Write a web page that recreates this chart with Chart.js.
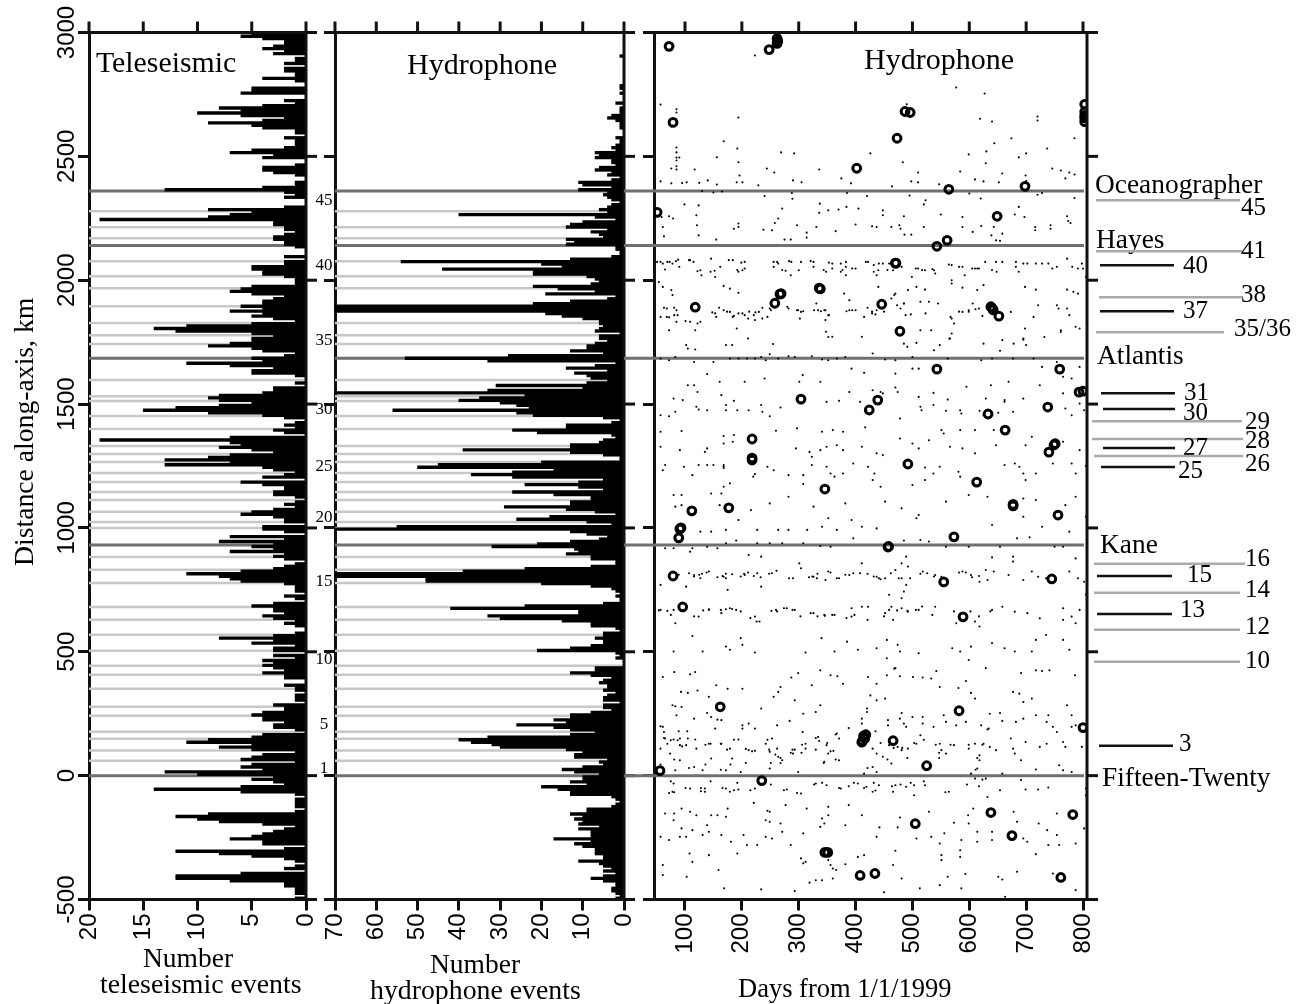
<!DOCTYPE html>
<html>
<head>
<meta charset="utf-8">
<title>Along-axis seismicity</title>
<script src="https://cdn.jsdelivr.net/npm/chart.js@4/dist/chart.umd.min.js"></script>
<style>
  html, body { margin: 0; background: #fff; }
  canvas { position: absolute; top: 0; }
</style>
</head>
<body>
<canvas id="tele" width="345" height="1004" style="left:0"></canvas>
<canvas id="hydro" width="320" height="1004" style="left:320px"></canvas>
<canvas id="days" width="682" height="1004" style="left:620px"></canvas>
<script>
// histogram counts, 10 km bins, listed from 3000 km down to -500 km
const teleseismicCounts = [
  5,6,4,2,2,3,4,2,3,0, 1,1,2,0,2,2,1,1,4,1, 0,0,5,5,6,0,0,2,1,4, 8,6,10,6,2,4,9,5,4,1, 1,0,2,1,1,1,2,5,7,3,
  4,0,0,1,4,4,3,1,0,0, 1,1,4,13,2,1,2,0,0,0, 2,9,5,7,9,19,3,3,2,2, 1,2,3,3,2,2,1,0,0,0, 2,0,2,2,5,5,4,4,2,1,
  1,1,5,6,7,5,2,3,4,4, 6,4,7,4,5,3,1,5,11,14, 12,5,3,5,5,7,9,5,4,1, 2,5,4,11,7,3,5,5,1,0, 0,1,0,3,3,4,8,9,8,5,
  8,12,15,9,4,2,0,1,2,1, 3,2,0,7,19,7,6,8,5,3, 7,9,13,7,13,4,3,1,2,4, 0,6,4,2,2,3,3,1,0,1, 2,1,3,5,6,3,2,2,0,4,
  4,2,0,7,2,8,3,5,3,7, 2,3,2,0,1,2,3,6,11,8, 7,6,2,1,1,1,0,2,1,0, 3,5,3,3,2,4,3,1,2,1, 0,0,1,3,8,3,5,1,3,3,
  0,3,1,4,3,4,3,2,4,2, 2,0,0,2,1,1,0,1,1,1, 0,3,2,2,4,5,4,4,2,3, 3,1,0,4,5,9,11,5,8,5, 1,4,5,6,1,5,6,4,13,10,
  3,5,3,2,6,14,6,1,0,1, 1,1,1,0,1,9,12,10,8,4, 1,2,3,4,5,7,4,4,0,2, 12,8,5,2,1,0,1,2,0,6, 12,12,7,2,2,1,1,1,0,1
];
const hydrophoneCounts = [
  0,0,0,0,0,0,0,0,0,1, 0,0,0,0,0,0,0,0,0,0, 0,1,1,0,1,0,0,0,2,0, 1,1,1,3,4,2,1,1,1,0, 0,0,2,1,1,2,3,2,7,6,
  7,3,3,2,6,7,3,4,1,3, 11,10,3,11,4,5,4,3,1,3, 4,6,4,40,7,2,10,13,14,4, 8,6,5,14,12,14,2,2,1,1, 3,13,54,20,15,44,22,22,9,7,
  6,8,22,16,7,19,2,4,13,22, 70,70,70,19,15,10,6,6,5,6, 7,1,6,6,4,7,9,9,13,5, 28,53,33,2,7,14,4,12,9,8, 4,9,31,10,33,70,24,35,40,30,
  26,23,56,26,22,5,1,3,14,14, 27,21,3,2,5,6,13,13,39,13, 5,1,1,20,45,50,17,27,37,27, 5,11,24,11,5,27,17,8,8,13, 13,29,14,7,2,18,26,9,3,55,
  70,13,9,4,6,13,21,32,12,11, 14,8,8,2,2,8,24,39,70,70, 48,48,20,8,3,2,1,2,1,1, 5,24,42,11,11,33,30,15,8,8, 2,1,5,5,7,5,5,8,13,21,
  2,1,2,0,0,0,7,7,13,8, 3,5,6,4,4,5,2,4,5,5, 1,5,5,3,8,13,13,17,14,26, 17,13,7,13,33,40,37,32,30,14, 10,12,12,4,6,5,10,15,12,6,
  10,10,13,9,20,16,13,13,3,2, 1,2,3,9,9,13,10,12,10,11, 6,11,8,8,8,17,8,12,10,7, 7,7,5,5,11,6,5,3,5,2, 5,8,5,2,2,3,3,2,1,2
];

// tick values
const distanceTicks = [3000, 2500, 2000, 1500, 1000, 500, 0, -500];
const teleTicks = [20, 15, 10, 5, 0];
const hydroTicks = [70, 60, 50, 40, 30, 20, 10, 0];
const dayTicks = [100, 200, 300, 400, 500, 600, 700, 800];

// named transforms (dark lines) and numbered offsets (light lines), km
const majorFaultKm = [2360, 2140, 1685, 931, 0];
const minorFaultKm = [2278,2214,2169,2077,2016,1968,1895,1827,1778,1742,1597,1532,1512,1452,1399,1331,1298,1266,1222,1185,1145,1113,1065,1024,1000,883,831,778,681,629,569,504,444,407,351,278,242,177,149,101,60];
const offsetTags = ['45','40','35','30','25','20','15','10','5','1'];
const offsetTagKm = [2323,2060,1758,1476,1246,1040,782,470,206,28];

// callouts right of the third panel
const calloutNames = ['45','41','40','38','37','35/36','31','30','29','28','27','26','25','16','15','14','13','12','10','3'];
const calloutKm = [2323,2117,2060,1931,1875,1790,1544,1480,1431,1359,1323,1290,1246,855,806,738,653,589,460,121];

// large located events [day, km]
const largeEvents = [[72,2944],[248,2931],[262,2956],[262,2976],[263,2965],[79,2637],[487,2681],[496,2677],[473,2573],[402,2452],[698,2379],[564,2367],[51,2274],[649,2258],[561,2161],[543,2137],[471,2069],[470,2069],[267,1944],[269,1946],[336,1968],[338,1965],[258,1907],[118,1891],[446,1903],[640,1887],[642,1880],[638,1893],[652,1855],[478,1794],[543,1641],[759,1641],[304,1520],[439,1516],[424,1476],[633,1460],[738,1488],[663,1395],[218,1359],[218,1274],[218,1282],[749,1335],[751,1340],[740,1306],[492,1258],[346,1157],[613,1185],[677,1089],[677,1095],[112,1069],[177,1081],[756,1052],[91,996],[93,1000],[89,960],[573,964],[457,923],[458,925],[79,806],[555,782],[745,794],[96,681],[589,641],[800,194],[162,278],[582,262],[414,160],[416,150],[412,140],[411,135],[418,165],[466,141],[525,40],[56,20],[235,-20],[782,-157],[638,-149],[505,-194],[675,-242],[346,-310],[351,-310],[408,-403],[434,-395],[761,-411],[803,2710],[803,2680],[803,2665],[803,2655],[803,2640],[800,1552],[793,1548]];

// small hydrophone events [day, km]
const dotsNorth = [[223,2907],[577,2778],[627,2754],[57,2709],[85,2690],[85,2677],[194,2657],[619,2652],[640,2641],[720,2661],[720,2645],[76,2621],[490,2710],[168,2561],[674,2573],[644,2553],[785,2573],[192,2532],[85,2536],[85,2516],[85,2495],[90,2495],[85,2483],[85,2460],[85,2447],[76,2451],[117,2447],[156,2496],[194,2476],[269,2516],[292,2512],[426,2512],[599,2508],[630,2520],[700,2512],[687,2496],[737,2532],[629,2472],[483,2476],[244,2451],[257,2435],[336,2447],[510,2435],[584,2439],[658,2431],[699,2423],[746,2451],[761,2443],[776,2435],[785,2427],[769,2411],[196,2423],[191,2395],[201,2395],[57,2399],[76,2391],[95,2392],[103,2395],[125,2393],[140,2403],[156,2386],[229,2383],[290,2403],[305,2395],[375,2411],[392,2391],[464,2379],[498,2399],[510,2395],[547,2387],[610,2407],[625,2399],[652,2395],[700,2400],[130,2360],[150,2354],[165,2358],[240,2340],[288,2352],[385,2352],[420,2340],[495,2342],[600,2350],[620,2330],[720,2345],[728,2352]];
const dotsHayes = [[124,2302],[99,2306],[289,2329],[337,2309],[336,2272],[352,2282],[370,2285],[384,2296],[405,2289],[448,2282],[448,2262],[523,2323],[520,2306],[271,2289],[264,2249],[258,2231],[120,2262],[59,2255],[72,2258],[79,2249],[121,2222],[194,2229],[186,2208],[194,2215],[238,2204],[253,2202],[297,2222],[314,2192],[331,2215],[365,2198],[400,2225],[429,2218],[437,2215],[463,2215],[477,2222],[479,2208],[486,2184],[498,2184],[520,2215],[550,2265],[485,2258],[588,2255],[588,2215],[606,2195],[621,2219],[643,2215],[680,2265],[697,2255],[687,2296],[716,2215],[716,2202],[743,2222],[743,2208],[772,2258],[774,2239],[778,2231],[785,2332],[61,2215],[63,2177],[124,2181],[155,2164],[275,2164],[286,2164],[314,2172],[639,2181],[647,2161],[654,2159],[658,2188]];
const dots2050 = [[57,2074],[61,2067],[73,2074],[78,2067],[88,2083],[90,2054],[109,2081],[115,2074],[65,2043],[146,2087],[127,2040],[129,2020],[152,2038],[153,2013],[162,2054],[184,2081],[194,2034],[201,2040],[205,2047],[205,2074],[256,2054],[262,2074],[264,2067],[287,2074],[304,2074],[326,2074],[277,2038],[286,2020],[300,2040],[326,2054],[348,2034],[359,2067],[359,2047],[374,2067],[374,2034],[383,2074],[383,2054],[383,2020],[400,2047],[422,2074],[432,2061],[440,2040],[437,2020],[448,2067],[459,2067],[466,2040],[481,2054],[499,2013],[510,2047],[522,2040],[538,2040],[540,2027],[569,2061],[588,2054],[592,2020],[569,2000],[610,2047],[617,2047],[628,2074],[647,2074],[648,2034],[658,2074],[682,2074],[682,2054],[695,2067],[702,2067],[687,2034],[717,2067],[728,2067],[739,2067],[754,2054],[746,2047],[772,2087],[781,2054],[791,2047],[798,2067],[800,2047],[805,2013]];
const dots1850 = [[54,1993],[61,1973],[76,1960],[78,1940],[168,1977],[179,1966],[194,1949],[264,1946],[380,1946],[389,1919],[440,1973],[463,1926],[470,1946],[492,1960],[507,1973],[522,1962],[569,1987],[588,1970],[625,1980],[614,1960],[698,1973],[717,1962],[772,1962],[783,1953],[791,1946],[68,1886],[85,1879],[87,1859],[68,1852],[85,1832],[109,1832],[127,1832],[118,1798],[153,1866],[155,1852],[168,1879],[179,1872],[184,1852],[194,1866],[205,1859],[211,1845],[221,1859],[223,1839],[230,1872],[236,1845],[249,1886],[282,1886],[299,1879],[304,1872],[302,1845],[331,1906],[334,1879],[345,1879],[352,1859],[347,1839],[389,1879],[400,1879],[415,1852],[429,1866],[437,1879],[468,1940],[485,1906],[479,1886],[488,1859],[514,1913],[529,1913],[545,1906],[569,1845],[573,1825],[588,1872],[599,1879],[606,1906],[617,1886],[673,1872],[713,1852],[721,1899],[754,1899],[757,1886],[772,1886],[776,1859],[787,1812],[72,1798],[191,1805],[348,1792],[514,1798],[533,1798],[569,1785],[698,1805],[761,1798],[794,1805],[359,1772],[411,1772],[211,1765],[695,1765],[566,1765],[658,1758]];
const dotsAtlantis = [[102,1738],[105,1724],[118,1720],[172,1738],[183,1738],[255,1742],[352,1771],[485,1744],[491,1731],[507,1747],[538,1717],[548,1738],[565,1764],[625,1744],[654,1715],[678,1744],[695,1760],[700,1738],[732,1771],[761,1791],[57,1684],[72,1677],[83,1690],[179,1684],[194,1684],[209,1684],[223,1684],[234,1690],[242,1677],[264,1684],[282,1693],[293,1690],[323,1693],[341,1680],[352,1677],[367,1684],[382,1690],[430,1704],[452,1680],[470,1677],[500,1690],[562,1684],[621,1677],[640,1684],[677,1684],[713,1684],[754,1670],[150,1670],[116,1670],[249,1701],[139,1621],[105,1576],[116,1576],[122,1549],[161,1590],[164,1536],[205,1590],[240,1603],[307,1617],[301,1590],[393,1643],[415,1626],[470,1623],[500,1643],[511,1643],[470,1567],[474,1549],[444,1549],[448,1543],[430,1556],[595,1570],[638,1576],[537,1545],[669,1590],[780,1603],[765,1610],[728,1650],[724,1576],[794,1650],[765,1543],[338,1590],[389,1549],[511,1529],[562,1518],[629,1522],[662,1516],[695,1522],[80,1522],[96,1516]];
const dots1450 = [[57,1455],[72,1451],[83,1469],[120,1489],[124,1478],[139,1475],[172,1496],[172,1475],[186,1513],[192,1475],[212,1475],[234,1496],[236,1469],[249,1451],[268,1486],[349,1509],[371,1513],[408,1509],[419,1475],[417,1406],[514,1489],[516,1475],[537,1496],[559,1473],[584,1475],[586,1462],[478,1442],[618,1473],[625,1455],[651,1465],[662,1509],[677,1469],[769,1482],[780,1455],[794,1502],[802,1475],[57,1388],[94,1391],[168,1371],[186,1375],[184,1348],[168,1341],[139,1321],[135,1307],[91,1314],[57,1328],[260,1392],[297,1402],[341,1388],[360,1395],[378,1388],[295,1321],[319,1307],[338,1314],[349,1328],[367,1334],[378,1314],[411,1328],[437,1301],[448,1294],[478,1361],[500,1341],[511,1321],[551,1395],[555,1381],[584,1395],[610,1395],[643,1395],[529,1354],[566,1328],[588,1321],[647,1334],[699,1334],[710,1368],[765,1348],[794,1314],[610,1301],[323,1287]];
const dots1200 = [[168,1254],[168,1248],[168,1242],[65,1254],[61,1233],[98,1247],[113,1213],[124,1254],[139,1254],[150,1254],[220,1207],[223,1217],[245,1247],[256,1233],[282,1213],[308,1213],[323,1254],[349,1247],[356,1220],[363,1207],[378,1220],[396,1260],[422,1247],[433,1220],[430,1193],[444,1166],[522,1244],[537,1220],[548,1247],[522,1193],[500,1173],[581,1227],[584,1207],[662,1254],[680,1260],[688,1247],[695,1220],[699,1193],[717,1220],[747,1260],[780,1260],[787,1220],[805,1250],[179,1180],[168,1166],[308,1177],[80,1133],[94,1133],[146,1139],[164,1139],[83,1086],[94,1092],[161,1092],[194,1032],[216,1072],[249,1099],[282,1126],[326,1086],[352,1039],[367,992],[382,1099],[393,1032],[411,1005],[437,998],[452,1106],[481,1079],[507,1039],[511,1052],[559,1106],[599,1133],[632,1126],[640,1012],[695,1119],[717,1113],[769,1092],[787,1126],[805,1045],[695,1045],[728,1005],[776,985],[127,985],[146,985],[172,992],[227,992],[264,992],[282,992],[315,992],[341,1005],[396,958]];
const dotsKane = [[172,938],[190,949],[227,938],[249,938],[271,938],[308,938],[338,927],[356,924],[485,949],[514,951],[529,945],[559,924],[599,924],[654,924],[684,958],[706,962],[750,924],[765,924],[65,918],[80,918],[113,918],[139,924],[157,918],[109,904],[212,891],[234,884],[301,857],[304,837],[411,857],[489,884],[481,857],[492,844],[640,881],[677,884],[677,864],[787,877],[57,770],[116,810],[127,797],[142,824],[168,803],[172,797],[205,810],[227,817],[253,817],[290,797],[326,803],[332,797],[352,824],[371,797],[389,810],[408,817],[437,803],[441,797],[452,797],[470,830],[481,797],[489,770],[518,824],[540,810],[551,803],[588,824],[603,810],[618,783],[629,830],[643,824],[669,810],[695,790],[710,824],[721,803],[735,797],[776,824],[791,797],[802,783],[102,763],[175,750],[234,763],[485,743],[459,730],[481,716],[805,730]];
const dots800 = [[89,811],[107,817],[116,804],[125,811],[130,815],[138,820],[157,801],[166,806],[172,815],[183,813],[198,804],[204,815],[211,820],[221,806],[233,801],[248,815],[261,827],[283,797],[318,801],[324,804],[333,815],[347,790],[356,820],[367,797],[382,811],[396,817],[421,815],[432,804],[444,793],[462,817],[476,797],[496,797],[514,815],[526,817],[538,804],[582,820],[594,820],[605,801],[617,806],[632,790]];
const dots650 = [[57,669],[80,669],[83,615],[124,642],[142,669],[164,656],[179,676],[190,669],[223,642],[231,622],[260,669],[279,676],[293,669],[326,656],[345,649],[363,649],[393,676],[393,642],[411,682],[422,682],[452,656],[463,682],[466,629],[481,676],[492,662],[511,669],[540,682],[577,615],[610,622],[618,602],[640,669],[658,682],[680,662],[702,656],[724,635],[765,676],[765,629],[780,642],[787,615],[794,669],[113,564],[198,555],[201,528],[172,521],[131,501],[80,501],[179,508],[223,497],[312,497],[340,555],[363,501],[385,541],[404,508],[437,514],[455,548],[474,528],[478,501],[511,494],[570,514],[584,501],[603,521],[599,467],[640,535],[662,514],[680,501],[710,501],[717,548],[735,568],[765,548],[776,508],[470,434],[629,434],[455,474],[54,667],[69,665],[75,649],[116,643],[132,667],[142,672],[163,669],[172,672],[183,673],[198,663],[215,636],[226,622],[252,665],[262,663],[274,676],[289,669],[303,643],[321,656],[333,643],[346,645],[359,649],[384,636],[398,649],[421,629],[450,643],[459,669],[473,667],[491,665],[506,669],[517,683],[535,649],[573,663],[602,663],[617,643],[637,663]];
const dots2050b = [[51,2074],[69,2074],[84,2077],[107,2081],[122,2036],[145,2034],[177,2081],[199,2071],[192,2041],[256,2074],[271,2041],[283,2077],[321,2077],[344,2041],[353,2071],[377,2041],[394,2047],[418,2074],[432,2034],[441,2067],[456,2041],[506,2047],[517,2041],[535,2045],[564,2063],[582,2054],[605,2047],[614,2047],[640,2041]];
const dots1850b = [[63,1889],[81,1889],[57,1852],[72,1850],[81,1859],[101,1835],[122,1825],[148,1870],[160,1889],[174,1873],[186,1856],[201,1866],[213,1873],[224,1870],[236,1889],[245,1852],[251,1879],[280,1893],[297,1879],[308,1875],[327,1879],[339,1875],[347,1879],[353,1859],[384,1875],[394,1879],[421,1889],[429,1873],[435,1862],[450,1873],[473,1899],[485,1906],[497,1862],[523,1866],[567,1852],[582,1873],[599,1873],[611,1883],[623,1856]];
const dots300 = [[61,398],[81,418],[109,409],[118,418],[287,396],[299,414],[338,425],[356,405],[368,401],[378,371],[422,398],[437,371],[455,405],[468,432],[478,401],[501,398],[518,396],[533,392],[542,422],[548,358],[581,354],[594,382],[603,334],[610,311],[691,414],[717,425],[728,422],[741,425],[786,405],[93,338],[105,334],[122,344],[155,365],[175,351],[201,351],[142,318],[268,358],[256,318],[264,338],[323,365],[293,304],[338,284],[330,257],[308,250],[437,304],[452,311],[426,324],[695,297],[710,311],[677,338],[688,331],[772,284],[780,244],[78,284],[83,280],[94,277],[85,244],[139,253],[146,237],[116,230],[157,226],[164,224],[153,190],[61,197],[63,176],[201,203],[201,190],[212,210],[223,190],[234,271],[262,203],[284,221],[307,176],[411,230],[411,210],[420,271],[420,257],[457,224],[457,203],[481,253],[478,230],[485,210],[489,197],[500,237],[518,237],[518,210],[537,197],[555,244],[559,217],[577,203],[594,217],[621,203],[634,190],[654,253],[636,250],[658,221],[682,217],[695,230],[717,244],[739,244],[736,217],[747,197],[754,176],[780,197],[787,203]];
const dots100 = [[65,150],[80,146],[91,150],[105,150],[118,146],[57,109],[69,129],[91,123],[102,123],[74,89],[91,62],[120,109],[142,129],[146,69],[164,129],[179,109],[183,69],[194,146],[212,103],[223,100],[242,129],[253,150],[249,96],[262,109],[264,76],[271,62],[290,89],[293,105],[312,129],[312,109],[334,156],[336,140],[349,123],[352,89],[361,100],[367,170],[371,150],[345,56],[371,62],[404,129],[430,109],[437,89],[448,76],[459,123],[474,116],[481,103],[492,109],[507,129],[514,163],[548,129],[551,103],[559,89],[573,123],[599,109],[610,129],[625,129],[636,116],[647,103],[677,109],[680,89],[673,150],[699,136],[724,116],[736,129],[765,136],[769,116],[798,116],[618,82],[618,62],[691,62],[758,42],[765,22],[116,35],[83,22],[131,22],[172,22],[198,15],[249,29],[299,15],[415,8],[430,35],[437,15],[463,49],[614,29],[603,8],[658,8],[717,25],[780,15]];
const dots100b = [[57,199],[89,179],[104,179],[75,143],[87,143],[95,118],[63,152],[136,125],[145,129],[163,129],[174,105],[186,145],[207,108],[218,98],[245,145],[248,105],[259,85],[268,71],[286,92],[289,105],[306,125],[305,92],[330,152],[330,105],[350,132],[356,98],[365,166],[388,192],[435,179],[444,132],[467,112],[482,112],[503,132],[520,145],[541,125],[547,92],[567,125],[599,125],[623,125],[632,186],[57,45],[81,65],[107,31],[136,45],[163,24],[180,45],[207,51],[251,51],[268,51],[344,51],[365,65],[421,31],[456,65],[491,71],[547,71],[614,71],[611,24],[75,-23],[72,-70],[81,-67],[101,-50],[128,-50],[128,-63],[145,-23],[166,-50],[186,-59],[192,-29],[215,-59],[251,-36],[274,-59],[297,-70],[327,-36],[341,-29],[371,-50],[388,-43],[397,-29],[415,-50],[432,-29],[435,-60],[464,-43],[479,-36],[497,-29],[520,-23],[558,-67],[596,-36],[617,-43],[623,-16]];
const dotsSouth = [[80,-32],[78,-65],[109,-52],[135,-52],[135,-65],[172,-52],[179,-65],[194,-56],[223,-52],[279,-56],[304,-72],[330,-32],[349,-39],[374,-52],[404,-32],[419,-45],[430,-65],[441,-39],[466,-65],[470,-39],[489,-45],[503,-39],[503,-79],[522,-39],[564,-65],[610,-12],[629,-12],[632,-86],[654,-59],[691,-18],[699,-56],[721,-56],[739,-48],[805,-52],[805,-79],[94,-133],[109,-146],[120,-160],[65,-153],[81,-153],[80,-180],[146,-160],[157,-160],[172,-166],[175,-133],[221,-110],[245,-142],[249,-146],[277,-119],[314,-133],[352,-126],[352,-160],[388,-119],[411,-160],[529,-146],[607,-133],[598,-160],[678,-146],[754,-153],[478,-169],[341,-173],[94,-213],[72,-260],[57,-247],[91,-247],[102,-247],[113,-220],[131,-240],[139,-200],[142,-227],[164,-240],[181,-267],[242,-180],[249,-186],[268,-193],[203,-240],[209,-280],[227,-280],[242,-247],[253,-254],[271,-227],[286,-280],[308,-233],[338,-207],[345,-193],[382,-200],[437,-247],[442,-209],[474,-209],[507,-254],[533,-247],[548,-274],[556,-233],[573,-190],[586,-260],[599,-193],[614,-267],[614,-227],[640,-227],[640,-260],[684,-186],[695,-254],[702,-267],[722,-193],[737,-220],[739,-280],[754,-240],[758,-280],[787,-274],[802,-213],[108,-314],[113,-348],[142,-321],[192,-314],[304,-334],[312,-348],[308,-354],[352,-341],[356,-361],[360,-375],[366,-381],[382,-358],[415,-321],[470,-303],[466,-361],[584,-301],[584,-328],[551,-321],[551,-341],[717,-317],[61,-361],[61,-401],[103,-408],[159,-381],[319,-432],[330,-422],[341,-422],[360,-415],[404,-328],[481,-415],[562,-408],[593,-397],[651,-408],[658,-419],[684,-388],[747,-395],[169,-455],[234,-459],[293,-466],[450,-471],[513,-455],[548,-442],[586,-455],[663,-489],[787,-462]];

const SERIF = '"Liberation Serif", serif';
const SANS = '"Liberation Sans", sans-serif';
const DARK_LINE = '#707070';
const LIGHT_LINE = '#c8c8c8';

Chart.defaults.animation = false;
Chart.defaults.events = [];
Chart.defaults.color = '#000';

// top and bottom of the plots in page pixels
const PLOT_TOP = 32.5;
const PLOT_BOTTOM = 899.5;

// every text in page pixels: [text, x, baseline y, font size]
const teleTexts = [
  ['Teleseismic', 96, 72, 29.8],
  ['Number', 143, 967, 27.5],
  ['teleseismic events', 100, 993, 27.8]
];
const hydroTexts = [
  ['Hydrophone', 407, 74, 30],
  ['Number', 430, 973, 27.5],
  ['hydrophone events', 370, 999, 27.8]
];
const dayTexts = [
  ['Hydrophone', 864, 69, 30],
  ['Days from 1/1/1999', 738, 997, 26.5],
  ['Oceanographer', 1095, 193, 27.4],
  ['Hayes', 1096, 248, 27.4],
  ['Atlantis', 1097, 364, 27.4],
  ['Kane', 1100, 553, 27.4],
  ['Fifteen-Twenty', 1102, 786, 27.4]
];
// callout layout, same order as calloutNames: [x0, x1, text x, baseline offset, gray?]
const calloutLayout = [
  [1096,1240,1241,15,1],[1096,1242,1241,7,1],[1100,1174,1183,8,0],[1099,1243,1241,5,1],[1100,1174,1183,7,0],[1096,1224,1234,4,1],
  [1101,1175,1184,7,0],[1103,1175,1183,11,0],[1092,1242,1245,8,1],[1092,1243,1245,9,1],[1103,1175,1183,7,0],[1094,1243,1245,15,1],[1101,1175,1178,11,0],
  [1094,1245,1245,2,1],[1097,1172,1187,6,0],[1094,1240,1245,4,1],[1097,1172,1180,3,0],[1094,1240,1245,4,1],[1094,1240,1245,6,1],[1099,1173,1179,5,0]
];

function hline(ctx, x0, x1, y, color, width) {
  ctx.strokeStyle = color;
  ctx.lineWidth = width;
  ctx.beginPath();
  ctx.moveTo(x0, y);
  ctx.lineTo(x1, y);
  ctx.stroke();
}

function vline(ctx, x, y0, y1, color, width) {
  ctx.strokeStyle = color;
  ctx.lineWidth = width;
  ctx.beginPath();
  ctx.moveTo(x, y0);
  ctx.lineTo(x, y1);
  ctx.stroke();
}

const panelPlugin = {
  id: 'panel',
  beforeDatasetsDraw(chart, args, opts) {
    const { ctx, chartArea: a, scales: { y } } = chart;
    ctx.save();
    (opts.minor || []).forEach(km => hline(ctx, a.left, a.right, y.getPixelForValue(km), LIGHT_LINE, 2.5));
    majorFaultKm.forEach(km => hline(ctx, a.left - (opts.leftReach || 0), a.right - (opts.rightTrim || 0), y.getPixelForValue(km), DARK_LINE, 3));
    ctx.restore();
  },
  afterDraw(chart, args, opts) {
    const { ctx, chartArea: a, scales: { x, y } } = chart;
    const off = opts.pageLeft;
    ctx.save();
    // frame and the ticks on the far sides
    hline(ctx, a.left - 11, a.right + 11, a.top, '#111', 3);
    hline(ctx, a.left - 11, a.right + 11, a.bottom, '#111', 3);
    vline(ctx, a.right, a.top, a.bottom, '#111', 3);
    x.ticks.forEach(t => vline(ctx, x.getPixelForValue(t.value), a.top - 11, a.top, '#111', 3));
    y.ticks.forEach(t => hline(ctx, a.right, a.right + 11, y.getPixelForValue(t.value), '#111', 3));
    // texts
    ctx.fillStyle = '#000';
    ctx.textAlign = 'left';
    ctx.textBaseline = 'alphabetic';
    opts.texts.forEach(([s, px, py, size]) => {
      ctx.font = size + 'px ' + SERIF;
      ctx.fillText(s, px - off, py);
    });
    if (opts.yTitle) {
      ctx.save();
      ctx.translate(33 - off, 566);
      ctx.rotate(-Math.PI / 2);
      ctx.font = '27.7px ' + SERIF;
      ctx.fillText(opts.yTitle, 0, 0);
      ctx.restore();
    }
    if (opts.tags) {
      ctx.font = '17px ' + SERIF;
      ctx.textBaseline = 'middle';
      offsetTags.forEach((s, i) => {
        const w = ctx.measureText(s).width;
        ctx.fillText(s, 324 - w / 2 - off, y.getPixelForValue(offsetTagKm[i]));
      });
      ctx.textBaseline = 'alphabetic';
    }
    if (opts.callouts) {
      calloutNames.forEach((s, i) => {
        const [x0, x1, tx, dy, gray] = calloutLayout[i];
        const py = y.getPixelForValue(calloutKm[i]);
        hline(ctx, x0 - off, x1 - off, py, gray ? '#aaaaaa' : '#111', 2.5);
        ctx.font = '25px ' + SERIF;
        ctx.fillText(s, tx - off, py + dy);
      });
    }
    ctx.restore();
  }
};

function xScale(min, max, reverse, ticks) {
  return {
    type: 'linear', position: 'bottom', min, max, reverse,
    afterBuildTicks: s => { s.ticks = ticks.map(value => ({ value })); },
    afterFit: s => { s.height = 1004 - PLOT_BOTTOM; s.paddingLeft = 0; s.paddingRight = 0; },
    grid: { drawOnChartArea: false, drawTicks: true, tickLength: 11, tickWidth: 3, tickColor: '#111' },
    border: { display: true, width: 3, color: '#111' },
    ticks: {
      autoSkip: false, minRotation: 90, maxRotation: 90, padding: 3,
      font: { family: SANS, size: 24 }, color: '#000',
      callback: v => String(v)
    }
  };
}

function yScale(axisWidth, showLabels) {
  return {
    type: 'linear', position: 'left', min: -500, max: 3000, offset: false,
    afterBuildTicks: s => { s.ticks = distanceTicks.map(value => ({ value })); },
    afterFit: s => { s.width = axisWidth; s.paddingTop = 0; s.paddingBottom = 0; },
    grid: { drawOnChartArea: false, drawTicks: true, tickLength: 11, tickWidth: 3, tickColor: '#111', offset: false },
    border: { display: true, width: 3, color: '#111' },
    ticks: {
      display: showLabels, autoSkip: false, minRotation: 90, maxRotation: 90,
      crossAlign: 'center', padding: -16.5,
      font: { family: SANS, size: 24 }, color: '#000',
      callback: v => String(v)
    }
  };
}

function barPoints(counts) {
  return counts.map((c, i) => ({ x: c, y: 2995 - i * 10 }));
}

function histogram(id, counts, maxCount, ticks, axisWidth, rightPad, showLabels, panelOpts) {
  return new Chart(document.getElementById(id), {
    type: 'bar',
    data: {
      datasets: [{
        data: barPoints(counts),
        backgroundColor: '#000',
        borderWidth: 0,
        barThickness: 2.7,
        clip: false
      }]
    },
    options: {
      responsive: false,
      indexAxis: 'y',
      layout: { padding: { left: 0, right: rightPad, top: PLOT_TOP, bottom: 0 } },
      scales: { x: xScale(0, maxCount, true, ticks), y: yScale(axisWidth, showLabels) },
      plugins: { legend: { display: false }, tooltip: { enabled: false }, panel: panelOpts }
    },
    plugins: [panelPlugin]
  });
}

histogram('tele', teleseismicCounts, 20, teleTicks, 89, 39, true, {
  pageLeft: 0, texts: teleTexts, minor: minorFaultKm, tags: true,
  yTitle: 'Distance along-axis, km'
});
histogram('hydro', hydrophoneCounts, 70, hydroTicks, 15, 16, false, {
  pageLeft: 320, texts: hydroTexts, minor: minorFaultKm
});

const smallEvents = [].concat(dotsNorth, dotsHayes, dots2050, dots2050b, dots1850, dots1850b, dotsAtlantis, dots1450, dots1200, dotsKane, dots800, dots650, dots300, dots100, dots100b, dotsSouth);

new Chart(document.getElementById('days'), {
  type: 'scatter',
  data: {
    datasets: [
      {
        data: largeEvents.map(([x, y]) => ({ x, y })),
        pointRadius: 3.9,
        borderColor: '#000',
        borderWidth: 3,
        backgroundColor: 'rgba(255,255,255,0)'
      },
      {
        data: smallEvents.map(([x, y]) => ({ x, y })),
        pointRadius: 1.05,
        borderWidth: 0,
        backgroundColor: '#000'
      }
    ]
  },
  options: {
    responsive: false,
    layout: { padding: { left: 0, right: 215, top: PLOT_TOP, bottom: 0 } },
    scales: { x: xScale(45.5, 807, false, dayTicks), y: yScale(34, false) },
    plugins: {
      legend: { display: false }, tooltip: { enabled: false },
      panel: { pageLeft: 620, texts: dayTexts, callouts: true, leftReach: 30, rightTrim: 3 }
    }
  },
  plugins: [panelPlugin]
});
</script>
</body>
</html>
